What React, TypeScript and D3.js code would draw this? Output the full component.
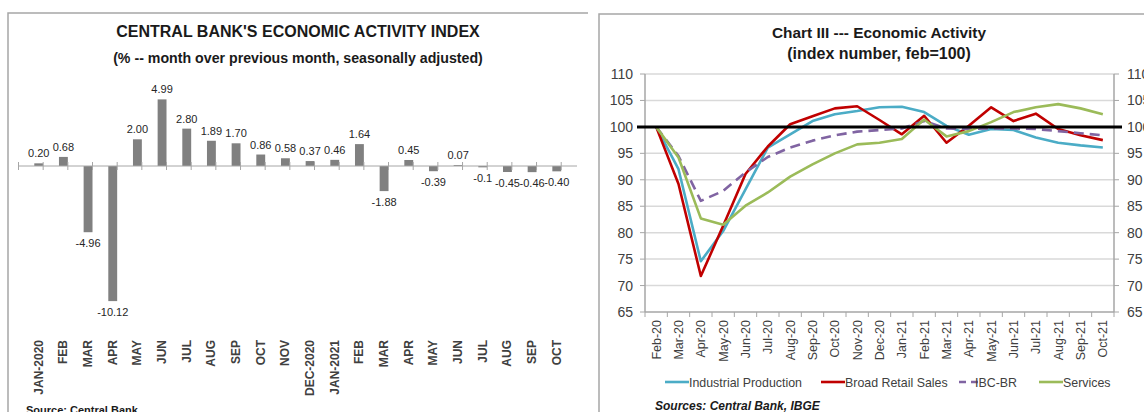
import React from "react";
import * as d3 from "d3";

// left panel: monthly growth of IBC-Br
const months = [
  "JAN-2020", "FEB", "MAR", "APR", "MAY", "JUN", "JUL", "AUG", "SEP", "OCT", "NOV",
  "DEC-2020", "JAN-2021", "FEB", "MAR", "APR", "MAY", "JUN", "JUL", "AUG", "SEP", "OCT",
];
const growth = [
  0.2, 0.68, -4.96, -10.12, 2.0, 4.99, 2.8, 1.89, 1.7, 0.86, 0.58,
  0.37, 0.46, 1.64, -1.88, 0.45, -0.39, 0.07, -0.1, -0.45, -0.46, -0.4,
];
const growthLabels = [
  "0.20", "0.68", "-4.96", "-10.12", "2.00", "4.99", "2.80", "1.89", "1.70", "0.86", "0.58",
  "0.37", "0.46", "1.64", "-1.88", "0.45", "-0.39", "0.07", "-0.1", "-0.45", "-0.46", "-0.40",
];

// right panel: index, feb 2020 = 100
const dates = [
  "Feb-20", "Mar-20", "Apr-20", "May-20", "Jun-20", "Jul-20", "Aug-20", "Sep-20", "Oct-20",
  "Nov-20", "Dec-20", "Jan-21", "Feb-21", "Mar-21", "Apr-21", "May-21", "Jun-21", "Jul-21",
  "Aug-21", "Sep-21", "Oct-21",
];
const industrial = [100, 92.0, 74.6, 80.3, 88.2, 96.1, 98.6, 101.1, 102.4, 103.0, 103.7, 103.8, 102.8, 100.2, 98.5, 99.6, 99.4, 98.0, 97.0, 96.5, 96.1];
const retail = [100, 89.2, 71.8, 81.3, 91.1, 96.3, 100.5, 102.0, 103.5, 103.9, 101.3, 98.6, 102.1, 97.0, 100.2, 103.7, 101.1, 102.5, 99.6, 98.4, 97.5];
const ibcbr = [100, 94.5, 86.0, 87.9, 91.4, 94.3, 96.1, 97.4, 98.4, 99.1, 99.4, 99.7, 101.1, 99.7, 99.6, 99.7, 99.7, 99.6, 99.2, 98.8, 98.4];
const services = [100, 94.2, 82.7, 81.5, 85.1, 87.6, 90.6, 92.9, 95.0, 96.7, 97.0, 97.7, 101.4, 98.2, 99.2, 100.9, 102.8, 103.7, 104.3, 103.5, 102.4];
const yTicks = [65, 70, 75, 80, 85, 90, 95, 100, 105, 110];

const series = [
  { name: "Industrial Production", values: industrial, color: "#4bacc6", dash: "" },
  { name: "Broad Retail Sales", values: retail, color: "#c00000", dash: "" },
  { name: "IBC-BR", values: ibcbr, color: "#8064a2", dash: "10,6" },
  { name: "Services", values: services, color: "#9bbb59", dash: "" },
];

const font = "'Liberation Sans', Arial, sans-serif";
const textColor = "#404040";

const BarPanel = () => {
  const x = d3.scaleBand().domain(months.map((m, i) => i + "")).range([18.5, 577]).padding(0.64);
  const y = d3.scaleLinear().domain([-11, 6]).range([312.85, 85.9]);
  const step = x.step();
  const x0 = 18.5;
  return (
    <g fontFamily={font}>
      <path d="M8,412V13H588" fill="none" stroke="#a6a6a6" strokeWidth={1.5} />
      <text x={298} y={37} textAnchor="middle" fontSize={16} fontWeight="bold" fill="#1a1a1a">
        CENTRAL BANK'S ECONOMIC ACTIVITY INDEX
      </text>
      <text x={298} y={63} textAnchor="middle" fontSize={14.2} fontWeight="bold" fill="#1a1a1a">
        (% -- month over previous month, seasonally adjusted)
      </text>
      {growth.map((v, i) => (
        <rect
          key={i}
          x={x(i + "")}
          width={x.bandwidth()}
          y={y(Math.max(0, v))}
          height={Math.abs(y(v) - y(0))}
          fill="#808080"
        />
      ))}
      <line x1={x0} x2={577} y1={y(0)} y2={y(0)} stroke="#a6a6a6" strokeWidth={1} />
      {d3.range(months.length + 1).map((i) => (
        <line key={i} x1={x0 + i * step} x2={x0 + i * step} y1={y(0) - 4} y2={y(0) + 4} stroke="#a6a6a6" />
      ))}
      {growth.map((v, i) => (
        <text
          key={i}
          x={(x(i + "") as number) + x.bandwidth() / 2}
          y={v >= 0 ? y(v) - 6 : y(v) + 15}
          textAnchor="middle"
          fontSize={11}
          fill="#262626"
        >
          {growthLabels[i]}
        </text>
      ))}
      {months.map((m, i) => (
        <text
          key={i}
          transform={`translate(${(x(i + "") as number) + x.bandwidth() / 2 + 4},340) rotate(-90)`}
          textAnchor="end"
          fontSize={12}
          fontWeight="bold"
          fill={textColor}
        >
          {m}
        </text>
      ))}
      <text x={26} y={414} fontSize={11} fontWeight="bold" fill="#1a1a1a">Source: Central Bank</text>
    </g>
  );
};

const LinePanel = () => {
  const left = 645;
  const right = 1114;
  const x = d3.scaleBand().domain(dates).range([left, right]);
  const y = d3.scaleLinear().domain([65, 110]).range([312, 74]);
  const px = (i: number) => (x(dates[i]) as number) + x.bandwidth() / 2;
  const line = d3
    .line<number>()
    .x((_, i) => px(i))
    .y((d) => y(d));
  const legendX = [665, 821, 959, 1039];
  return (
    <g fontFamily={font}>
      <path d="M599,412V14H1144" fill="none" stroke="#a6a6a6" strokeWidth={1.5} />
      <text x={879} y={38} textAnchor="middle" fontSize={15.4} fontWeight="bold" fill="#1a1a1a">
        Chart III --- Economic Activity
      </text>
      <text x={879} y={59} textAnchor="middle" fontSize={16} fontWeight="bold" fill="#1a1a1a">
        (index number, feb=100)
      </text>
      {yTicks.map((t) => (
        <g key={t}>
          {t > 65 && t !== 100 && (
            <line x1={left} x2={right} y1={y(t)} y2={y(t)} stroke="#d9d9d9" strokeWidth={1.5} />
          )}
          <line x1={left - 5} x2={left} y1={y(t)} y2={y(t)} stroke="#a6a6a6" />
          <line x1={right} x2={right + 5} y1={y(t)} y2={y(t)} stroke="#a6a6a6" />
          <text x={633} y={y(t) + 5} textAnchor="end" fontSize={14} fill={textColor}>{t}</text>
          <text x={1127} y={y(t) + 5} fontSize={14} fill={textColor}>{t}</text>
        </g>
      ))}
      <line x1={left} x2={left} y1={y(110)} y2={y(65)} stroke="#a6a6a6" strokeWidth={1.5} />
      <line x1={right} x2={right} y1={y(110)} y2={y(65)} stroke="#a6a6a6" strokeWidth={1.5} />
      <line x1={left} x2={right} y1={y(65)} y2={y(65)} stroke="#a6a6a6" strokeWidth={1.5} />
      {d3.range(dates.length + 1).map((i) => (
        <line
          key={i}
          x1={left + i * x.step()}
          x2={left + i * x.step()}
          y1={y(65)}
          y2={y(65) + 5}
          stroke="#a6a6a6"
        />
      ))}
      {dates.map((d, i) => (
        <text
          key={d}
          transform={`translate(${px(i) + 4.5},320) rotate(-90)`}
          textAnchor="end"
          fontSize={12.5}
          fill={textColor}
        >
          {d}
        </text>
      ))}
      {series.map((s) => (
        <path
          key={s.name}
          d={line(s.values) as string}
          fill="none"
          stroke={s.color}
          strokeWidth={2.6}
          strokeDasharray={s.dash}
          strokeLinejoin="round"
        />
      ))}
      <line x1={637} x2={1122} y1={y(100)} y2={y(100)} stroke="#000" strokeWidth={3} />
      {series.map((s, i) => (
        <g key={s.name}>
          <line
            x1={legendX[i]}
            x2={legendX[i] + 24}
            y1={382}
            y2={382}
            stroke={s.color}
            strokeWidth={2.6}
            strokeDasharray={s.dash ? "7,5" : ""}
          />
          <text x={legendX[i] + 24 + (s.dash ? -8 : 0)} y={386.5} fontSize={12.4} fill={textColor}>
            {s.name}
          </text>
        </g>
      ))}
      <text x={655} y={410} fontSize={12} fontWeight="bold" fontStyle="italic" fill="#1a1a1a">
        Sources: Central Bank, IBGE
      </text>
    </g>
  );
};

export default function App() {
  return (
    <div style={{ position: "absolute", left: 0, top: 0 }}>
      <svg width={1144} height={412} style={{ display: "block", background: "#fff" }}>
        <BarPanel />
        <LinePanel />
      </svg>
    </div>
  );
}
